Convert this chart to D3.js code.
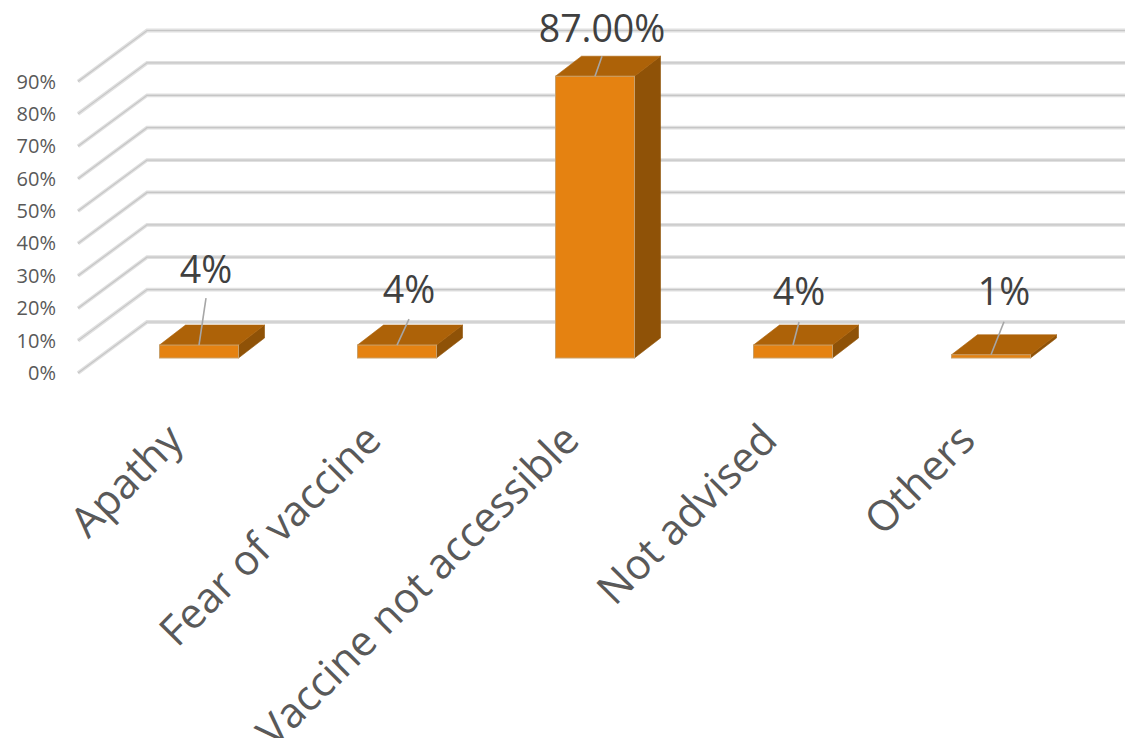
<!DOCTYPE html>
<html><head><meta charset="utf-8">
<script src="https://cdnjs.cloudflare.com/ajax/libs/d3/7.8.5/d3.min.js"></script>
<style>html,body{margin:0;background:#fff}svg{display:block}text{font-family:"Open Sans",sans-serif}</style>
</head><body><svg id="c" width="1125" height="738"></svg>
<script>
const categories = ["Apathy","Fear of vaccine","Vaccine not accessible","Not advised","Others"];
const values = [4,4,87,4,1];
const valueLabels = ["4%","4%","87.00%","4%","1%"];
const yTicks = [0,10,20,30,40,50,60,70,80,90];

const svg = d3.select("#c");
const W = 1125, H = 738;
// layout
const y = d3.scaleLinear().domain([0,90]).range([373,81.5]);
const x = d3.scaleBand().domain(categories).range([100,1090]).paddingInner(0).paddingOuter(0);
const barW = 79;
const floor = {dx:69, dy:-51};          // depth of the chart box
const bar = {dx:26, dy:-20, inX:0, inY:15}; // depth of a bar, lift from front floor
// per-label placement relative to bar centre / bar top (label centre dx, baseline dy, leader end dx,dy)
const place = [
  {lx:7, ly:-62, ex:7, ey:-47},
  {lx:12, ly:-42, ex:12, ey:-26},
  {lx:7, ly:-34, ex:7, ey:-20},
  {lx:6, ly:-40, ex:6, ey:-23},
  {lx:13, ly:-50, ex:13, ey:-33}
];

// gridlines
const gridG = svg.append("g");
yTicks.forEach(t=>{
  const yy = y(t);
  const pts = [[78,yy],[78+floor.dx,yy+floor.dy],[W,yy+floor.dy]];
  const ln = d3.line();
  gridG.append("path").attr("d",ln(pts)).attr("fill","none").attr("stroke","#e0e0e0").attr("stroke-width",3.8);
  gridG.append("path").attr("d",ln(pts)).attr("fill","none").attr("stroke","#c6c6c6").attr("stroke-width",1.2);
});

// y tick labels
svg.append("g").selectAll("text").data(yTicks).join("text")
  .attr("x",56).attr("y",d=>y(d)+7)
  .attr("text-anchor","end").attr("font-size",20).attr("fill","#595959")
  .text(d=>d+"%");

// bars
const g = svg.append("g");
const bars = categories.map((c,i)=>({c,v:values[i],l:valueLabels[i],p:place[i],
  x0:x(c)+x.bandwidth()/2-barW/2,
  top:y(values[i])-bar.inY, base:y(0)-bar.inY}));
bars.forEach(b=>{
  const x0=b.x0,x1=x0+barW,t=b.top,bs=b.base,dx=bar.dx,dy=bar.dy;
  const poly=(p,f)=>g.append("polygon").attr("points",p.map(q=>q.join(",")).join(" ")).attr("fill",f).attr("stroke",f).attr("stroke-width",.6);
  poly([[x1,t],[x1+dx,t+dy],[x1+dx,bs+dy],[x1,bs]],"#8f5207");
  poly([[x0,t],[x0+dx,t+dy],[x1+dx,t+dy],[x1,t]],"#ad6208");
  g.append("rect").attr("x",x0).attr("y",t).attr("width",barW).attr("height",Math.max(bs-t,2))
    .attr("fill","#e58211").attr("stroke","#c9a06a").attr("stroke-width",1);
  const cx=x0+barW/2;
  g.append("line").attr("x1",cx).attr("y1",t).attr("x2",cx+b.p.ex).attr("y2",t+b.p.ey)
    .attr("stroke","#a6a6a6").attr("stroke-width",1.6);
  g.append("text").attr("x",cx+b.p.lx).attr("y",t+b.p.ly).attr("text-anchor","middle")
    .attr("font-size",37.5).attr("fill","#404040").text(b.l);
});

// category labels
svg.append("g").selectAll("text").data(categories).join("text")
  .attr("transform",d=>`translate(${x(d)+x.bandwidth()/2-24},${432}) rotate(-45)`)
  .attr("text-anchor","end").attr("dy","0.35em")
  .attr("font-size",42).attr("fill","#595959").text(d=>d);
</script></body></html>
